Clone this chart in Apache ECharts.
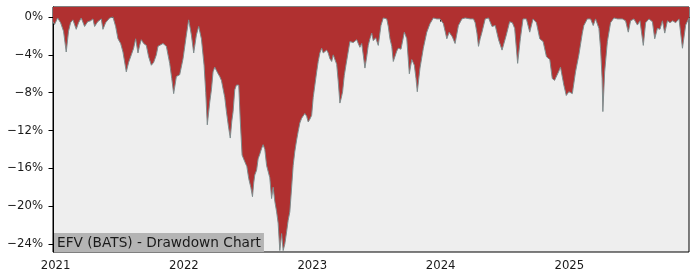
<!DOCTYPE html>
<html>
<head>
<meta charset="utf-8">
<script src="https://cdn.jsdelivr.net/npm/echarts@6/dist/echarts.min.js"></script>
<style>
html,body{margin:0;padding:0;background:#ffffff;}
#chart{width:700px;height:280px;}
</style>
</head>
<body>
<div id="chart"></div>
<script>
// Dates as decimal years
const dateYears = [
2020.980,2020.992,2021.016,2021.039,2021.062,2021.083,2021.101,2021.117,2021.135,2021.161,
2021.179,2021.200,2021.226,2021.250,2021.273,2021.291,2021.304,2021.328,2021.356,2021.369,
2021.390,2021.421,2021.447,2021.468,2021.486,2021.507,2021.525,2021.551,2021.569,2021.590,
2021.608,2021.624,2021.642,2021.655,2021.668,2021.686,2021.707,2021.725,2021.746,2021.764,
2021.785,2021.798,2021.811,2021.837,2021.863,2021.874,2021.889,2021.905,2021.920,2021.941,
2021.955,2021.967,2021.993,2022.019,2022.037,2022.058,2022.076,2022.097,2022.115,2022.136,
2022.157,2022.170,2022.182,2022.201,2022.214,2022.227,2022.240,2022.253,2022.266,2022.279,
2022.292,2022.305,2022.318,2022.331,2022.346,2022.361,2022.373,2022.383,2022.396,2022.409,
2022.422,2022.427,2022.439,2022.453,2022.474,2022.490,2022.505,2022.521,2022.534,2022.544,
2022.552,2022.566,2022.578,2022.591,2022.605,2022.617,2022.630,2022.644,2022.656,2022.669,
2022.683,2022.695,2022.708,2022.722,2022.734,2022.747,2022.761,2022.773,2022.786,2022.800,
2022.812,2022.825,2022.839,2022.851,2022.864,2022.878,2022.890,2022.903,2022.917,2022.929,
2022.942,2022.956,2022.968,2022.981,2022.995,2023.007,2023.020,2023.034,2023.046,2023.059,
2023.073,2023.085,2023.098,2023.112,2023.124,2023.137,2023.151,2023.163,2023.176,2023.190,
2023.202,2023.215,2023.225,2023.236,2023.249,2023.262,2023.278,2023.293,2023.307,2023.319,
2023.332,2023.346,2023.358,2023.371,2023.385,2023.397,2023.410,2023.424,2023.436,2023.449,
2023.463,2023.475,2023.494,2023.514,2023.535,2023.553,2023.580,2023.592,2023.605,2023.619,
2023.631,2023.644,2023.658,2023.670,2023.691,2023.717,2023.736,2023.756,2023.775,2023.795,
2023.808,2023.818,2023.839,2023.865,2023.892,2023.917,2023.943,2023.970,2023.995,2024.021,
2024.048,2024.066,2024.091,2024.112,2024.138,2024.165,2024.190,2024.229,2024.255,2024.268,
2024.282,2024.294,2024.307,2024.321,2024.346,2024.372,2024.399,2024.424,2024.450,2024.477,
2024.489,2024.510,2024.536,2024.557,2024.575,2024.598,2024.619,2024.640,2024.666,2024.692,
2024.718,2024.744,2024.770,2024.796,2024.822,2024.848,2024.867,2024.885,2024.900,2024.916,
2024.931,2024.957,2024.976,2024.996,2025.023,2025.048,2025.074,2025.087,2025.101,2025.113,
2025.140,2025.165,2025.186,2025.204,2025.230,2025.243,2025.255,2025.261,2025.275,2025.296,
2025.321,2025.347,2025.376,2025.413,2025.438,2025.459,2025.477,2025.503,2025.530,2025.550,
2025.576,2025.594,2025.620,2025.647,2025.665,2025.686,2025.706,2025.725,2025.743,2025.764,
2025.784,2025.805,2025.828,2025.854,2025.881,2025.906,2025.932
];
// Drawdown in percent
const drawdown = [
-0.5,-0.8,-0.1,-0.6,-1.5,-3.7,-1.5,-0.6,-0.3,-1.3,
-0.6,-0.1,-1.0,-0.5,-0.4,-0.2,-1.0,-0.5,-0.2,-1.3,
-0.6,-0.1,0,-1.0,-2.3,-2.8,-3.7,-5.8,-4.8,-4.0,
-3.3,-2.3,-3.8,-3.0,-2.4,-2.8,-3.0,-4.2,-5.1,-4.8,
-4.0,-3.1,-3.0,-2.8,-3.1,-3.3,-4.9,-6.5,-8.1,-6.3,
-6.5,-6.1,-4.4,-1.9,-0.3,-1.9,-3.8,-1.9,-1.0,-2.3,
-5.1,-8.0,-11.4,-9.0,-7.7,-5.8,-5.3,-5.3,-6.0,-6.3,
-6.7,-6.8,-8.5,-10.0,-11.5,-12.8,-11.0,-10.0,-7.7,-7.2,
-7.0,-7.2,-11.0,-14.6,-15.3,-15.8,-17.1,-18.0,-19.0,-17.5,
-16.7,-16.2,-15.0,-14.5,-13.9,-13.5,-14.0,-15.7,-15.5,-17.0,
-19.2,-18.0,-19.5,-20.6,-21.8,-24.7,-22.9,-24.7,-24.0,-22.7,
-21.5,-20.6,-18.0,-15.7,-14.2,-13.0,-12.1,-11.2,-10.7,-10.8,
-10.2,-10.5,-11.1,-10.8,-10.4,-8.5,-7.2,-5.8,-4.7,-3.8,
-3.3,-3.8,-3.7,-3.5,-3.8,-4.4,-4.7,-4.0,-4.0,-5.0,
-6.8,-9.1,-8.6,-7.9,-6.2,-5.1,-3.8,-2.6,-2.4,-2.7,
-2.5,-2.4,-2.8,-3.2,-2.8,-4.0,-5.4,-4.2,-3.0,-2.3,
-1.7,-2.5,-2.2,-3.0,-0.9,-0.1,-0.2,-1.0,-2.3,-3.1,
-4.7,-4.9,-3.6,-3.3,-3.4,-1.6,-2.3,-6.0,-4.5,-5.1,
-6.5,-7.9,-5.4,-3.3,-1.6,-0.7,-0.1,-0.2,-0.2,-0.7,
-2.3,-1.6,-2.1,-2.8,-0.9,-0.2,-0.1,-0.2,-0.2,-0.6,
-1.7,-3.1,-2.3,-1.6,-0.2,-0.1,-1.0,-0.9,-2.4,-3.5,
-3.3,-1.9,-0.5,-0.6,-1.2,-4.9,-2.3,-0.2,-0.2,-1.6,
-0.2,-0.6,-2.3,-2.6,-4.2,-4.5,-6.5,-6.7,-6.8,-5.8,
-5.3,-7.2,-8.3,-7.9,-8.1,-5.8,-4.0,-3.8,-1.7,-0.9,
-0.2,-0.2,-0.9,-0.2,-1.2,-3.3,-6.5,-10.0,-5.8,-2.6,
-0.6,-0.1,-0.2,-0.2,-0.4,-1.6,-0.4,-0.2,-0.85,-0.4,
-3.0,-0.6,-0.2,-0.5,-2.3,-1.2,-1.3,-0.4,-1.7,-0.4,
-0.6,-0.4,-0.6,-0.2,-3.3,-0.85,-0.1
];
const yearTicks = [2021, 2022, 2023, 2024, 2025];
const percentTicks = [0, -4, -8, -12, -16, -20, -24];
const chartTitle = 'EFV (BATS) - Drawdown Chart';

function yearToTs(y) {
  const yr = Math.floor(y);
  const s = Date.UTC(yr, 0, 1), e = Date.UTC(yr + 1, 0, 1);
  return s + (y - yr) * (e - s);
}
const seriesData = dateYears.map((d, i) => [yearToTs(d), drawdown[i]]);
const xTickVals = yearTicks.map(y => Date.UTC(y, 0, 1));

const chart = echarts.init(document.getElementById('chart'), null, {renderer: 'canvas'});
const font = 'DejaVu Sans';
chart.setOption({
  animation: false,
  backgroundColor: '#ffffff',
  title: {
    text: chartTitle,
    left: 54,
    bottom: 28,
    backgroundColor: '#b4b4b4',
    padding: [3, 3, 1, 3],
    textStyle: {fontFamily: font, fontSize: 13.7, fontWeight: 'normal', color: '#1a1a1a', lineHeight: 15}
  },
  grid: {
    left: 53, right: 11, top: 7, bottom: 28,
    show: true, backgroundColor: '#eeeeee', borderColor: '#000000', borderWidth: 1
  },
  xAxis: {
    type: 'value',
    min: 'dataMin', max: 'dataMax',
    splitLine: {show: false},
    axisLine: {show: true, lineStyle: {color: '#000000', width: 1}},
    axisTick: {show: true, customValues: xTickVals, length: 4.5, lineStyle: {color: '#000000'}},
    axisLabel: {
      customValues: xTickVals,
      fontFamily: font, fontSize: 11.7, color: '#1a1a1a', margin: 8,
      formatter: v => String(new Date(v).getUTCFullYear())
    }
  },
  yAxis: {
    type: 'value',
    min: -24.85, max: 1.06,
    splitLine: {show: false},
    axisLine: {show: true, lineStyle: {color: '#000000', width: 1}},
    axisTick: {show: true, customValues: percentTicks, length: 4.5, lineStyle: {color: '#000000'}},
    axisLabel: {
      customValues: percentTicks,
      fontFamily: font, fontSize: 11.7, color: '#1a1a1a', margin: 10,
      formatter: v => (v < 0 ? '\u2212' + Math.abs(v) : String(v)) + '%'
    }
  },
  series: [{
    type: 'line',
    data: seriesData,
    showSymbol: false,
    symbol: 'none',
    lineStyle: {color: '#7f8c8d', width: 1},
    areaStyle: {origin: 'end', color: '#b03030', opacity: 1},
    z: 2
  }]
});
</script>
</body>
</html>
